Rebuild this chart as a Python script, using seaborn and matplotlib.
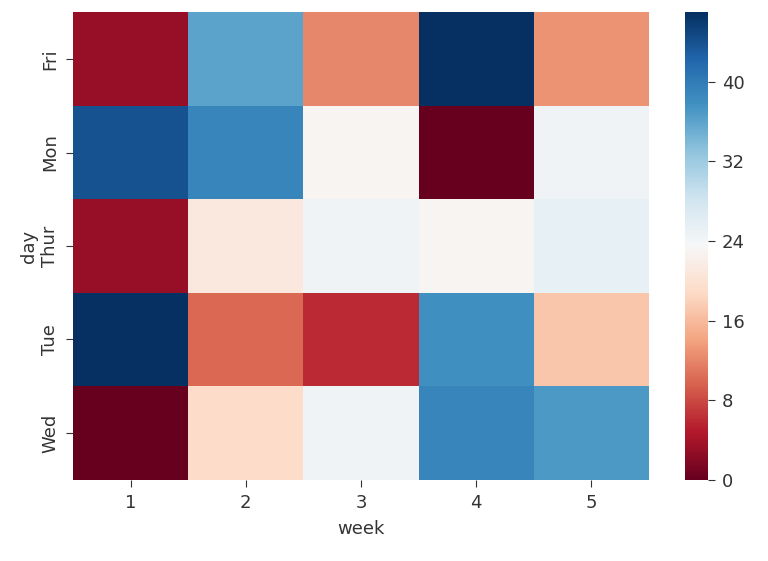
import matplotlib
matplotlib.use("Agg")
import matplotlib.pyplot as plt
import pandas as pd
import seaborn as sns

DAYS = ["Fri", "Mon", "Thur", "Tue", "Wed"]
WEEKS = [1, 2, 3, 4, 5]
FRI = [3, 36, 12, 47, 13]
MON = [44, 39, 23, 0, 24.5]
THUR = [3, 21, 24.5, 23, 25.5]
TUE = [47, 10, 6, 38, 17]
WED = [0, 19, 24.5, 39, 37]


def main() -> None:
    plt.rcParams["font.size"] = 13
    plt.rcParams["xtick.major.size"] = 5
    plt.rcParams["ytick.major.size"] = 5
    plt.rcParams["xtick.major.pad"] = 5
    plt.rcParams["ytick.major.pad"] = 5
    plt.rcParams["text.color"] = "#333333"
    plt.rcParams["xtick.color"] = "#333333"
    plt.rcParams["ytick.color"] = "#333333"
    plt.rcParams["axes.labelcolor"] = "#333333"

    table = pd.DataFrame([FRI, MON, THUR, TUE, WED], index=DAYS, columns=WEEKS)
    table.index.name = "day"
    table.columns.name = "week"

    fig = plt.figure(figsize=(7.68, 5.61), dpi=100)
    ax = fig.add_axes([0.095, 0.145, 0.75, 0.833])
    cax = fig.add_axes([0.892, 0.145, 0.03, 0.833])
    sns.heatmap(table, cmap="RdBu", ax=ax, cbar_ax=cax,
                cbar_kws={"ticks": [0, 8, 16, 24, 32, 40]})
    ax.xaxis.labelpad = 6
    ax.yaxis.labelpad = 2
    cax.tick_params(labelsize=13, length=5)
    fig.savefig("out.png", dpi=100)


if __name__ == "__main__":
    main()
